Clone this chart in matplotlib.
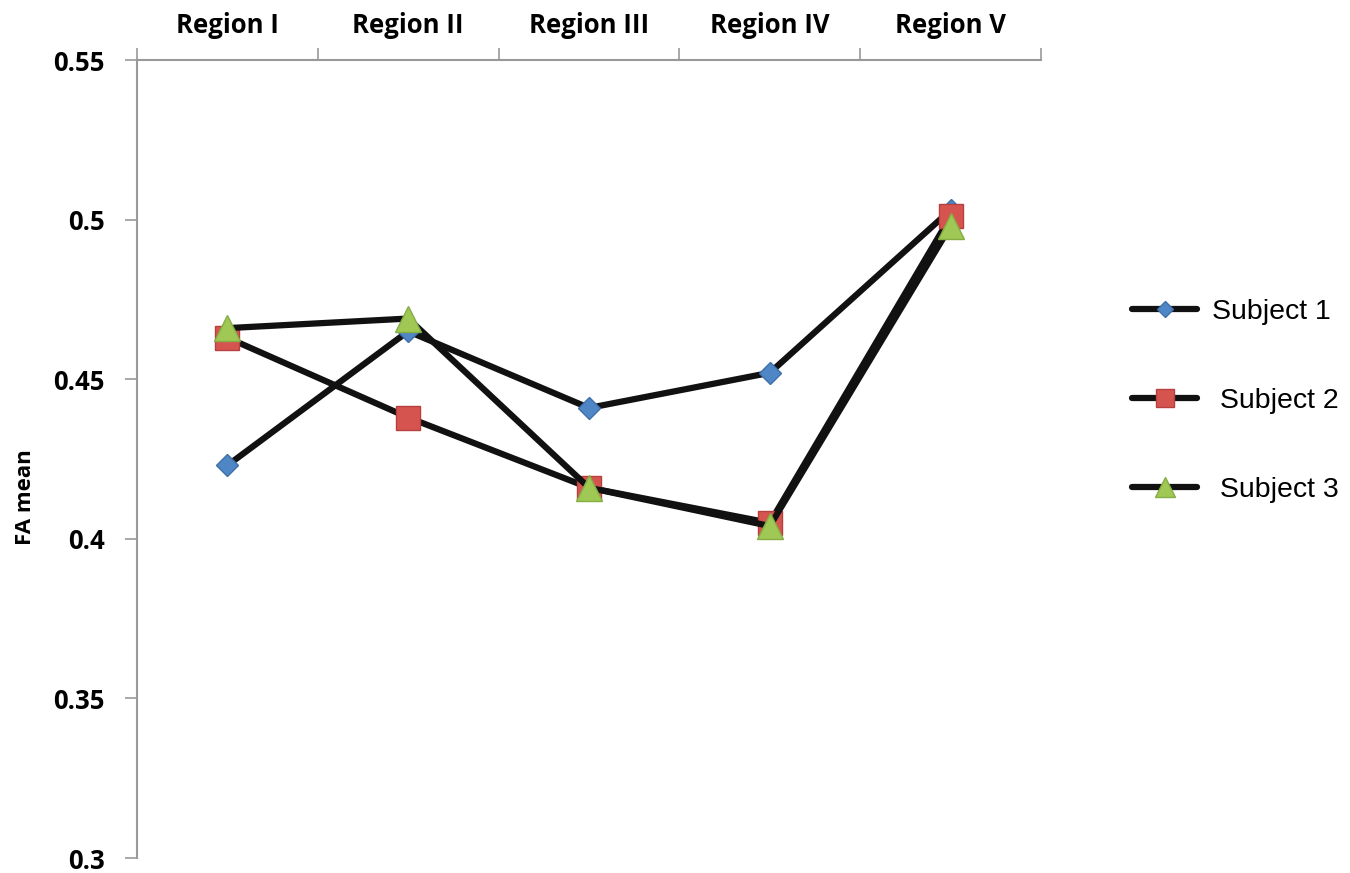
import matplotlib.pyplot as plt

regions = ['Region I', 'Region II', 'Region III', 'Region IV', 'Region V']
subject1 = [0.423, 0.465, 0.441, 0.452, 0.503]
subject2 = [0.463, 0.438, 0.416, 0.405, 0.501]
subject3 = [0.466, 0.469, 0.416, 0.404, 0.498]
labels = ['Subject 1', ' Subject 2', ' Subject 3']
yticks = [0.3, 0.35, 0.4, 0.45, 0.5, 0.55]

fig = plt.figure(figsize=(13.5, 8.73), dpi=100)
ax = fig.add_axes([137 / 1350, 15 / 873, (1041 - 137) / 1350, (858 - 60) / 873])

x = list(range(len(regions)))
# marker, fill, edge, size
styles = [('D', '#4f86c6', '#3f6fa8', 11.5),
          ('s', '#d65450', '#b5403d', 17.5),
          ('^', '#9fc855', '#86ad44', 19)]
for vals, lab, (mk, fc, ec, ms) in zip([subject1, subject2, subject3], labels, styles):
    ax.plot(x, vals, color='#111111', lw=4.5, marker=mk, ms=ms,
            markerfacecolor=fc, markeredgecolor=ec, markeredgewidth=1,
            label=lab, solid_joinstyle='round', solid_capstyle='round',
            clip_on=False)

ax.set_xlim(-0.5, 4.5)
ax.set_ylim(0.3, 0.55)

# category names sit above the top axis, ticks mark the boundaries
ax.xaxis.tick_top()
ax.set_xticks(x)
ax.set_xticklabels(regions, fontsize=18.5, fontweight='bold', family='Open Sans')
ax.set_xticks([i - 0.5 for i in range(len(regions) + 1)], minor=True)
ax.tick_params(axis='x', which='major', length=0, pad=15)
ax.tick_params(axis='x', which='minor', length=9, color='#999999', width=1.2)

ax.set_yticks(yticks)
ax.set_yticklabels([f'{v:g}' for v in yticks], fontsize=18.5, fontweight='bold', family='Open Sans')
ax.tick_params(axis='y', length=9, color='#999999', width=1.2, pad=14)
ax.set_ylabel('FA mean', fontsize=16, fontweight='bold', family='Open Sans')
ax.yaxis.set_label_coords(36 / 1350, 1 - 497 / 873, transform=fig.transFigure)

for side in ['right', 'bottom']:
    ax.spines[side].set_visible(False)
for side in ['top', 'left']:
    ax.spines[side].set_color('#999999')
    ax.spines[side].set_linewidth(1.5)

fig.legend(loc='center left', bbox_to_anchor=(1132 / 1350, 1 - 401 / 873),
           frameon=False, prop={'family': 'Liberation Sans', 'size': 20.5},
           labelspacing=2.2, handlelength=2.3, handletextpad=0.5, markerscale=0.75,
           borderpad=0, borderaxespad=0)

fig.savefig('out.png', dpi=100)
